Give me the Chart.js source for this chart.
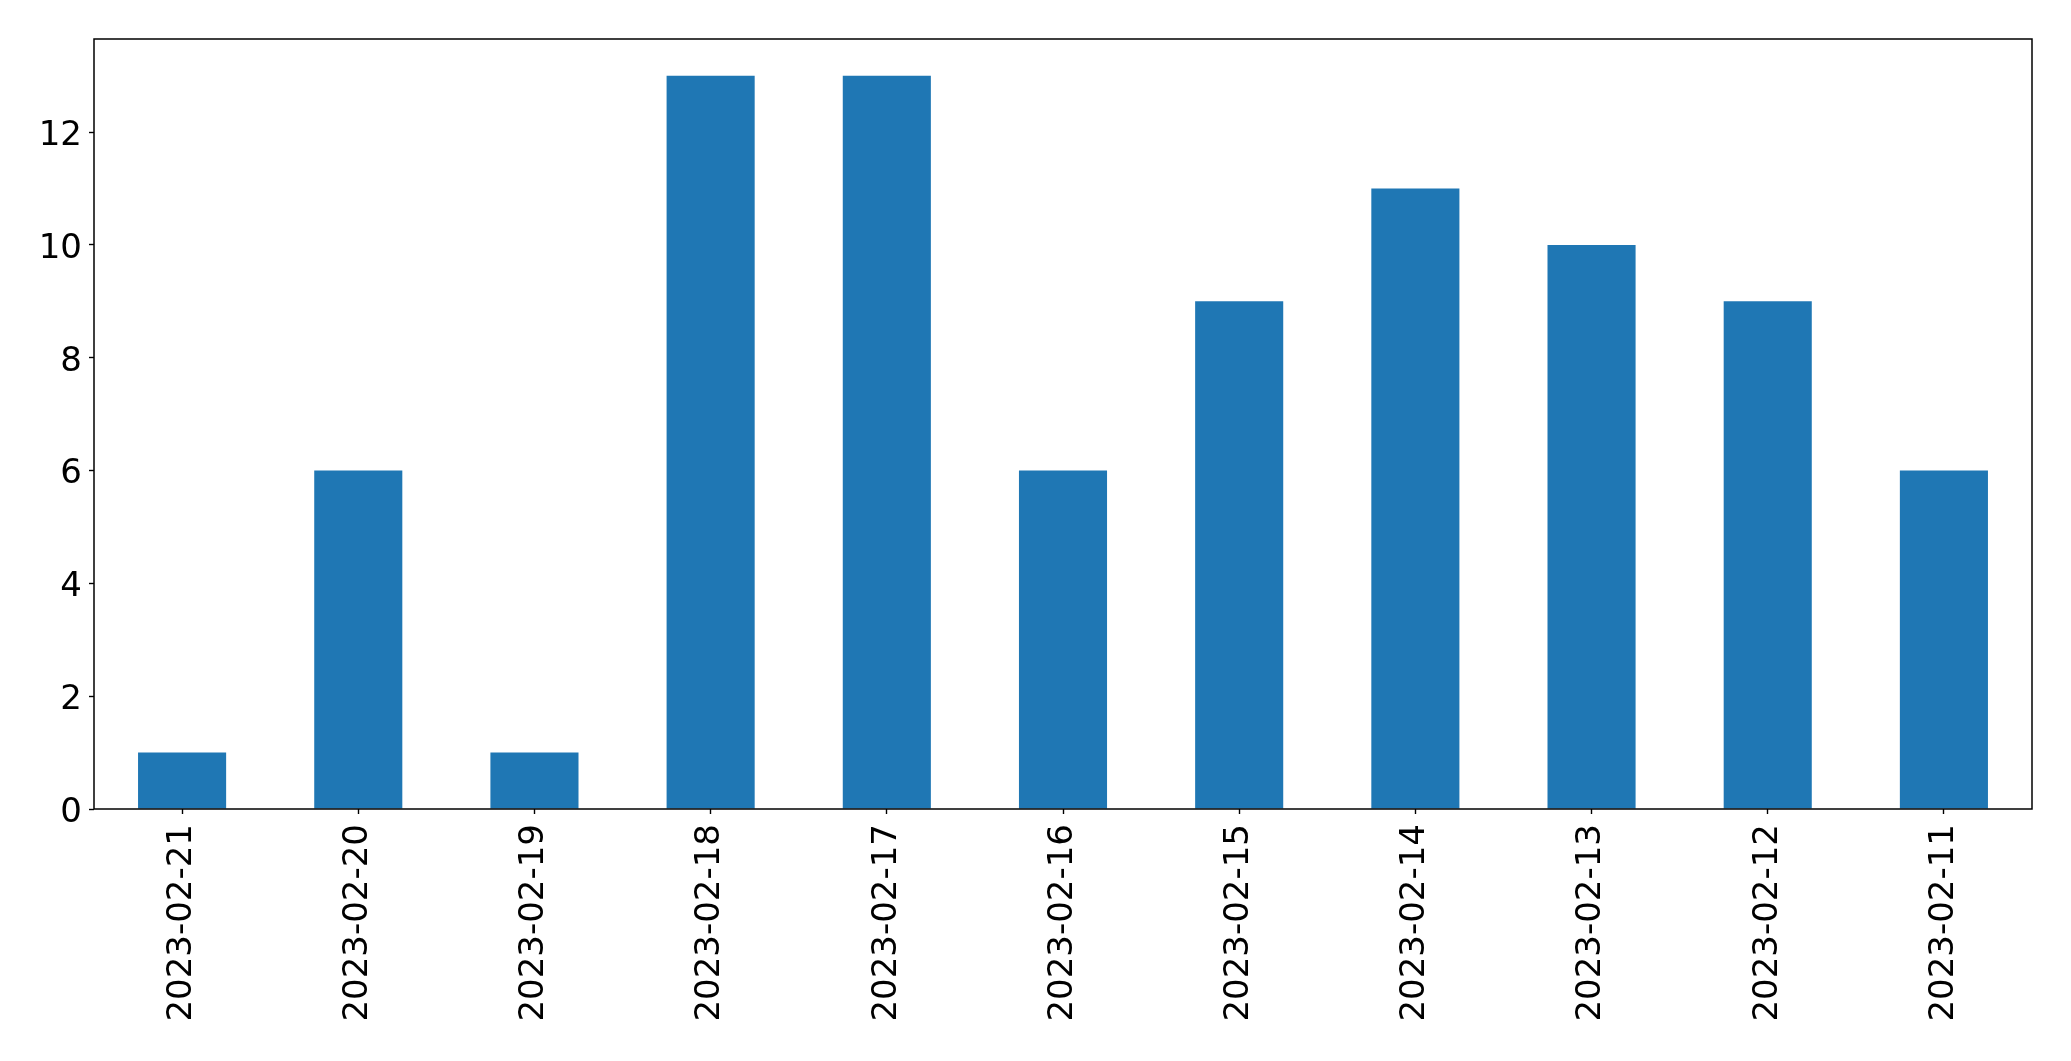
<!DOCTYPE html>
<html>
<head>
<meta charset="utf-8">
<script src="https://cdn.jsdelivr.net/npm/chart.js@4/dist/chart.umd.min.js"></script>
<style>
  html, body { margin: 0; padding: 0; background: #fff; }
  #chart { display: block; }
</style>
</head>
<body>
<canvas id="chart" width="2071" height="1061"></canvas>
<script>
// categories and counts
const dates = ['2023-02-21', '2023-02-20', '2023-02-19', '2023-02-18', '2023-02-17', '2023-02-16',
               '2023-02-15', '2023-02-14', '2023-02-13', '2023-02-12', '2023-02-11'];
const counts = [1, 6, 1, 13, 13, 6, 9, 11, 10, 9, 6];
const yTicks = [0, 2, 4, 6, 8, 10, 12];

const FONT = { family: '"DejaVu Sans", sans-serif', size: 34 };

// draw the full box round the plot like matplotlib spines
const frame = {
  id: 'frame',
  afterDraw(chart) {
    const { ctx, chartArea: a } = chart;
    ctx.save();
    ctx.strokeStyle = '#000';
    ctx.lineWidth = 1.5;
    ctx.strokeRect(a.left, a.top, a.right - a.left, a.bottom - a.top);
    ctx.restore();
  }
};

new Chart(document.getElementById('chart'), {
  type: 'bar',
  data: {
    labels: dates,
    datasets: [{
      data: counts,
      backgroundColor: '#1f77b4',
      borderWidth: 0,
      categoryPercentage: 1,
      barPercentage: 0.5
    }]
  },
  options: {
    responsive: false,
    animation: false,
    layout: { padding: { top: 39, right: 39, left: 0, bottom: 0 } },
    plugins: { legend: { display: false }, tooltip: { enabled: false } },
    scales: {
      x: {
        offset: true,
        grid: { display: true, offset: false, drawOnChartArea: false, tickLength: 5, tickColor: '#000', tickWidth: 1.4 },
        border: { display: false },
        ticks: { color: '#000', font: FONT, minRotation: 90, maxRotation: 90, padding: 10, autoSkip: false },
        afterFit: s => { s.height = 252; }
      },
      y: {
        min: 0,
        max: 13.65,
        grid: { display: true, drawOnChartArea: false, tickLength: 5, tickColor: '#000', tickWidth: 1.4 },
        border: { display: false },
        ticks: {
          color: '#000', font: FONT, padding: 7, stepSize: 2, includeBounds: false, labelOffset: 4,
          callback: v => (yTicks.includes(v) ? v : null)
        },
        afterFit: s => { s.width = 94; }
      }
    }
  },
  plugins: [frame]
});
</script>
</body>
</html>
